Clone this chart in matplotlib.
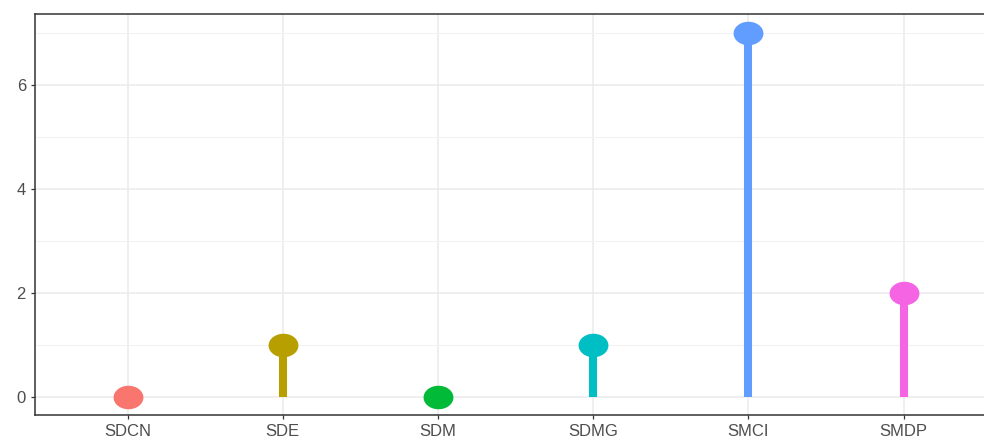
import numpy as np
import matplotlib.pyplot as plt
from matplotlib.path import Path

# lollipop chart, ggplot theme_bw look
methods = ["SDCN", "SDE", "SDM", "SDMG", "SMCI", "SMDP"]
counts = [0, 1, 0, 1, 7, 2]
colors = ["#F8766D", "#B79F00", "#00BA38", "#00BFC4", "#619CFF", "#F564E3"]

plt.rcParams['font.family'] = ['Liberation Sans', 'DejaVu Sans']

W, H = 984, 441
fig = plt.figure(figsize=(W / 100, H / 100), dpi=100)
# panel runs past the right edge of the picture
left, top, bottom = 34.5, 14.3, 415.3
width = 6.2 * 155.2
ax = fig.add_axes([left / W, 1 - bottom / H, width / W, (bottom - top) / H])

# slightly wide ellipse marker
t = np.linspace(0, 2 * np.pi, 60)
ellipse = Path(np.column_stack([1.27 * np.cos(t), np.sin(t)]), closed=True)

x = np.arange(len(methods))
for i, (v, c) in enumerate(zip(counts, colors)):
    ax.plot([x[i], x[i]], [0, v], color=c, lw=5.8, solid_capstyle='butt', zorder=3)
    ax.plot(x[i], v, marker=ellipse, markersize=21.5, color=c, markeredgewidth=0, zorder=4)

ax.set_xlim(-0.6, len(methods) - 1 + 0.6)
ax.set_ylim(-0.35, 7.35)
ax.set_xticks(x)
ax.set_xticklabels(methods)
ax.set_yticks([0, 2, 4, 6])
ax.set_yticks([1, 3, 5, 7], minor=True)

ax.grid(True, which='major', color='#EBEBEB', lw=1.1, zorder=0)
ax.grid(True, which='minor', axis='y', color='#F2F2F2', lw=0.8, zorder=0)
ax.set_axisbelow(True)

for s in ax.spines.values():
    s.set_color('#333333')
    s.set_linewidth(1.1)

ax.tick_params(which='major', length=3.2, width=0.9, color='#333333',
               labelcolor='#4D4D4D', labelsize=12, pad=3)
ax.tick_params(which='minor', length=0)

fig.savefig("out.png", dpi=100)
